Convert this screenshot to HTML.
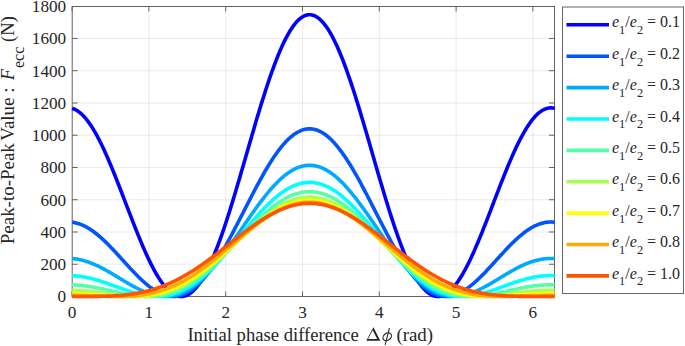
<!DOCTYPE html><html><head><meta charset="utf-8"><style>html,body{margin:0;padding:0;background:#fff;width:685px;height:346px;overflow:hidden}</style></head><body><svg width="685" height="346" viewBox="0 0 685 346" style="position:absolute;left:0;top:0">
<path d="M148.90 6.5V296.5 M225.70 6.5V296.5 M302.50 6.5V296.5 M379.30 6.5V296.5 M456.10 6.5V296.5 M532.90 6.5V296.5" stroke="#262626" stroke-opacity="0.095" stroke-width="1" fill="none"/>
<path d="M72.1 264.24H554.5 M72.1 231.99H554.5 M72.1 199.73H554.5 M72.1 167.48H554.5 M72.1 135.22H554.5 M72.1 102.97H554.5 M72.1 70.71H554.5 M72.1 38.46H554.5" stroke="#262626" stroke-opacity="0.095" stroke-width="1" fill="none"/>
<path d="M72.10 296.5v-5 M72.10 6.5v5 M148.90 296.5v-5 M148.90 6.5v5 M225.70 296.5v-5 M225.70 6.5v5 M302.50 296.5v-5 M302.50 6.5v5 M379.30 296.5v-5 M379.30 6.5v5 M456.10 296.5v-5 M456.10 6.5v5 M532.90 296.5v-5 M532.90 6.5v5 M72.1 264.24h5.5 M554.5 264.24h-5.5 M72.1 231.99h5.5 M554.5 231.99h-5.5 M72.1 199.73h5.5 M554.5 199.73h-5.5 M72.1 167.48h5.5 M554.5 167.48h-5.5 M72.1 135.22h5.5 M554.5 135.22h-5.5 M72.1 102.97h5.5 M554.5 102.97h-5.5 M72.1 70.71h5.5 M554.5 70.71h-5.5 M72.1 38.46h5.5 M554.5 38.46h-5.5" stroke="#636363" stroke-width="1" fill="none"/>
<rect x="72.2" y="6.5" width="482.30" height="290.0" stroke="#636363" stroke-width="1" fill="none"/>
<polyline points="72.10,108.39 73.07,108.68 74.03,109.05 75.00,109.47 75.97,109.97 76.94,110.53 77.90,111.15 78.87,111.84 79.84,112.59 80.80,113.40 81.77,114.28 82.74,115.22 83.70,116.22 84.67,117.28 85.64,118.40 86.61,119.58 87.57,120.82 88.54,122.11 89.51,123.47 90.47,124.87 91.44,126.34 92.41,127.85 93.37,129.42 94.34,131.05 95.31,132.72 96.28,134.44 97.24,136.21 98.21,138.02 99.18,139.89 100.14,141.79 101.11,143.74 102.08,145.73 103.05,147.76 104.01,149.83 104.98,151.94 105.95,154.08 106.91,156.26 107.88,158.47 108.85,160.72 109.81,162.99 110.78,165.29 111.75,167.62 112.72,169.97 113.68,172.35 114.65,174.75 115.62,177.16 116.58,179.60 117.55,182.05 118.52,184.52 119.48,187.00 120.45,189.50 121.42,192.00 122.39,194.51 123.35,197.03 124.32,199.55 125.29,202.07 126.25,204.60 127.22,207.12 128.19,209.65 129.15,212.16 130.12,214.67 131.09,217.18 132.06,219.67 133.02,222.15 133.99,224.62 134.96,227.07 135.92,229.51 136.89,231.92 137.86,234.32 138.83,236.69 139.79,239.04 140.76,241.37 141.73,243.67 142.69,245.93 143.66,248.17 144.63,250.38 145.59,252.55 146.56,254.68 147.53,256.78 148.50,258.84 149.46,260.86 150.43,262.84 151.40,264.77 152.36,266.66 153.33,268.50 154.30,270.30 155.26,272.04 156.23,273.74 157.20,275.38 158.17,276.97 159.13,278.51 160.10,279.99 161.07,281.42 162.03,282.78 163.00,284.09 163.97,285.34 164.94,286.52 165.90,287.65 166.87,288.71 167.84,289.71 168.80,290.64 169.77,291.50 170.74,292.30 171.70,293.03 172.67,293.70 173.64,294.29 174.61,294.82 175.57,295.27 176.54,295.66 177.51,295.97 178.47,296.21 179.44,296.38 180.41,296.48 181.37,296.50 182.34,296.45 183.31,296.33 184.28,296.13 185.24,295.86 186.21,295.52 187.18,295.10 188.14,294.61 189.11,294.04 190.08,293.40 191.04,292.69 192.01,291.90 192.98,291.04 193.95,290.11 194.91,289.10 195.88,288.02 196.85,286.87 197.81,285.65 198.78,284.36 199.75,282.99 200.72,281.56 201.68,280.06 202.65,278.49 203.62,276.85 204.58,275.14 205.55,273.37 206.52,271.53 207.48,269.63 208.45,267.67 209.42,265.64 210.39,263.55 211.35,261.40 212.32,259.19 213.29,256.92 214.25,254.59 215.22,252.21 216.19,249.78 217.15,247.29 218.12,244.75 219.09,242.15 220.06,239.51 221.02,236.82 221.99,234.09 222.96,231.31 223.92,228.48 224.89,225.62 225.86,222.71 226.83,219.76 227.79,216.78 228.76,213.76 229.73,210.71 230.69,207.63 231.66,204.51 232.63,201.37 233.59,198.20 234.56,195.00 235.53,191.79 236.50,188.55 237.46,185.29 238.43,182.01 239.40,178.71 240.36,175.41 241.33,172.09 242.30,168.76 243.26,165.42 244.23,162.07 245.20,158.72 246.17,155.37 247.13,152.01 248.10,148.66 249.07,145.31 250.03,141.96 251.00,138.63 251.97,135.30 252.93,131.98 253.90,128.67 254.87,125.38 255.84,122.10 256.80,118.85 257.77,115.61 258.74,112.40 259.70,109.21 260.67,106.04 261.64,102.90 262.61,99.80 263.57,96.72 264.54,93.68 265.51,90.67 266.47,87.70 267.44,84.76 268.41,81.87 269.37,79.02 270.34,76.21 271.31,73.45 272.28,70.73 273.24,68.06 274.21,65.44 275.18,62.87 276.14,60.36 277.11,57.90 278.08,55.50 279.04,53.15 280.01,50.86 280.98,48.63 281.95,46.46 282.91,44.36 283.88,42.32 284.85,40.34 285.81,38.43 286.78,36.59 287.75,34.81 288.72,33.11 289.68,31.47 290.65,29.91 291.62,28.42 292.58,27.00 293.55,25.66 294.52,24.39 295.48,23.19 296.45,22.08 297.42,21.04 298.39,20.07 299.35,19.19 300.32,18.38 301.29,17.65 302.25,17.00 303.22,16.44 304.19,15.95 305.15,15.54 306.12,15.21 307.09,14.97 308.06,14.80 309.02,14.72 309.99,14.72 310.96,14.80 311.92,14.96 312.89,15.20 313.86,15.52 314.82,15.92 315.79,16.41 316.76,16.97 317.73,17.61 318.69,18.34 319.66,19.14 320.63,20.02 321.59,20.98 322.56,22.01 323.53,23.13 324.50,24.32 325.46,25.58 326.43,26.92 327.40,28.33 328.36,29.82 329.33,31.38 330.30,33.01 331.26,34.71 332.23,36.48 333.20,38.32 334.17,40.23 335.13,42.20 336.10,44.24 337.07,46.34 338.03,48.50 339.00,50.73 339.97,53.01 340.93,55.36 341.90,57.76 342.87,60.21 343.84,62.73 344.80,65.29 345.77,67.91 346.74,70.57 347.70,73.29 348.67,76.05 349.64,78.85 350.61,81.70 351.57,84.59 352.54,87.52 353.51,90.49 354.47,93.50 355.44,96.54 356.41,99.62 357.37,102.72 358.34,105.86 359.31,109.02 360.28,112.21 361.24,115.42 362.21,118.66 363.18,121.91 364.14,125.19 365.11,128.48 366.08,131.79 367.04,135.10 368.01,138.43 368.98,141.77 369.95,145.11 370.91,148.46 371.88,151.82 372.85,155.17 373.81,158.52 374.78,161.88 375.75,165.22 376.71,168.56 377.68,171.89 378.65,175.21 379.62,178.52 380.58,181.82 381.55,185.10 382.52,188.36 383.48,191.60 384.45,194.82 385.42,198.01 386.39,201.19 387.35,204.33 388.32,207.45 389.29,210.53 390.25,213.59 391.22,216.61 392.19,219.59 393.15,222.54 394.12,225.45 395.09,228.32 396.06,231.14 397.02,233.93 397.99,236.67 398.96,239.36 399.92,242.00 400.89,244.60 401.86,247.14 402.82,249.63 403.79,252.07 404.76,254.46 405.73,256.79 406.69,259.06 407.66,261.27 408.63,263.42 409.59,265.52 410.56,267.55 411.53,269.52 412.50,271.42 413.46,273.27 414.43,275.04 415.40,276.75 416.36,278.39 417.33,279.97 418.30,281.48 419.26,282.91 420.23,284.28 421.20,285.58 422.17,286.80 423.13,287.96 424.10,289.04 425.07,290.05 426.03,290.99 427.00,291.85 427.97,292.64 428.93,293.36 429.90,294.00 430.87,294.57 431.84,295.07 432.80,295.49 433.77,295.84 434.74,296.12 435.70,296.32 436.67,296.44 437.64,296.50 438.60,296.48 439.57,296.39 440.54,296.22 441.51,295.98 442.47,295.68 443.44,295.30 444.41,294.85 445.37,294.32 446.34,293.73 447.31,293.07 448.28,292.35 449.24,291.55 450.21,290.69 451.18,289.76 452.14,288.77 453.11,287.71 454.08,286.59 455.04,285.41 456.01,284.16 456.98,282.86 457.95,281.50 458.91,280.08 459.88,278.60 460.85,277.07 461.81,275.48 462.78,273.84 463.75,272.14 464.71,270.40 465.68,268.61 466.65,266.77 467.62,264.88 468.58,262.95 469.55,260.98 470.52,258.96 471.48,256.90 472.45,254.81 473.42,252.67 474.39,250.50 475.35,248.30 476.32,246.06 477.29,243.80 478.25,241.50 479.22,239.18 480.19,236.83 481.15,234.46 482.12,232.06 483.09,229.65 484.06,227.21 485.02,224.76 485.99,222.29 486.96,219.81 487.92,217.32 488.89,214.82 489.86,212.31 490.82,209.79 491.79,207.27 492.76,204.75 493.73,202.22 494.69,199.70 495.66,197.18 496.63,194.66 497.59,192.15 498.56,189.64 499.53,187.15 500.49,184.67 501.46,182.20 502.43,179.74 503.40,177.31 504.36,174.89 505.33,172.49 506.30,170.11 507.26,167.75 508.23,165.43 509.20,163.12 510.17,160.85 511.13,158.60 512.10,156.39 513.07,154.21 514.03,152.06 515.00,149.95 515.97,147.88 516.93,145.85 517.90,143.86 518.87,141.90 519.84,139.99 520.80,138.13 521.77,136.31 522.74,134.54 523.70,132.82 524.67,131.14 525.64,129.52 526.60,127.94 527.57,126.42 528.54,124.96 529.51,123.55 530.47,122.19 531.44,120.89 532.41,119.65 533.37,118.47 534.34,117.34 535.31,116.28 536.28,115.27 537.24,114.33 538.21,113.45 539.18,112.63 540.14,111.88 541.11,111.19 542.08,110.56 543.04,110.00 544.01,109.50 544.98,109.07 545.95,108.70 546.91,108.40 547.88,108.17 548.85,108.00 549.81,107.90 550.78,107.86 551.75,107.89 552.71,107.99 553.68,108.16 554.65,108.39" stroke="#0000ff" stroke-width="3.6" fill="none" stroke-linejoin="round"/>
<polyline points="72.10,222.21 73.07,222.34 74.03,222.50 75.00,222.69 75.97,222.91 76.94,223.16 77.90,223.44 78.87,223.74 79.84,224.07 80.80,224.44 81.77,224.82 82.74,225.24 83.70,225.68 84.67,226.15 85.64,226.65 86.61,227.17 87.57,227.72 88.54,228.29 89.51,228.89 90.47,229.51 91.44,230.16 92.41,230.83 93.37,231.52 94.34,232.24 95.31,232.97 96.28,233.73 97.24,234.51 98.21,235.31 99.18,236.13 100.14,236.96 101.11,237.82 102.08,238.69 103.05,239.58 104.01,240.48 104.98,241.40 105.95,242.34 106.91,243.29 107.88,244.25 108.85,245.23 109.81,246.21 110.78,247.21 111.75,248.22 112.72,249.24 113.68,250.26 114.65,251.30 115.62,252.34 116.58,253.39 117.55,254.44 118.52,255.50 119.48,256.56 120.45,257.62 121.42,258.69 122.39,259.75 123.35,260.82 124.32,261.89 125.29,262.95 126.25,264.01 127.22,265.07 128.19,266.13 129.15,267.18 130.12,268.23 131.09,269.27 132.06,270.30 133.02,271.32 133.99,272.33 134.96,273.34 135.92,274.33 136.89,275.31 137.86,276.28 138.83,277.23 139.79,278.17 140.76,279.10 141.73,280.01 142.69,280.90 143.66,281.78 144.63,282.64 145.59,283.48 146.56,284.30 147.53,285.09 148.50,285.87 149.46,286.63 150.43,287.36 151.40,288.07 152.36,288.75 153.33,289.41 154.30,290.05 155.26,290.65 156.23,291.24 157.20,291.79 158.17,292.32 159.13,292.81 160.10,293.28 161.07,293.72 162.03,294.13 163.00,294.51 163.97,294.85 164.94,295.17 165.90,295.45 166.87,295.70 167.84,295.92 168.80,296.10 169.77,296.25 170.74,296.36 171.70,296.44 172.67,296.49 173.64,296.50 174.61,296.47 175.57,296.41 176.54,296.32 177.51,296.18 178.47,296.01 179.44,295.81 180.41,295.56 181.37,295.28 182.34,294.97 183.31,294.61 184.28,294.22 185.24,293.79 186.21,293.33 187.18,292.83 188.14,292.29 189.11,291.71 190.08,291.10 191.04,290.45 192.01,289.76 192.98,289.04 193.95,288.28 194.91,287.48 195.88,286.65 196.85,285.79 197.81,284.88 198.78,283.95 199.75,282.97 200.72,281.97 201.68,280.93 202.65,279.85 203.62,278.75 204.58,277.60 205.55,276.43 206.52,275.23 207.48,273.99 208.45,272.72 209.42,271.43 210.39,270.10 211.35,268.74 212.32,267.36 213.29,265.94 214.25,264.50 215.22,263.04 216.19,261.54 217.15,260.02 218.12,258.48 219.09,256.91 220.06,255.32 221.02,253.71 221.99,252.07 222.96,250.42 223.92,248.74 224.89,247.05 225.86,245.33 226.83,243.60 227.79,241.85 228.76,240.09 229.73,238.31 230.69,236.51 231.66,234.71 232.63,232.89 233.59,231.06 234.56,229.21 235.53,227.36 236.50,225.50 237.46,223.63 238.43,221.76 239.40,219.88 240.36,218.00 241.33,216.11 242.30,214.22 243.26,212.32 244.23,210.43 245.20,208.53 246.17,206.64 247.13,204.75 248.10,202.86 249.07,200.98 250.03,199.10 251.00,197.22 251.97,195.36 252.93,193.50 253.90,191.65 254.87,189.81 255.84,187.99 256.80,186.17 257.77,184.37 258.74,182.58 259.70,180.80 260.67,179.05 261.64,177.30 262.61,175.58 263.57,173.88 264.54,172.19 265.51,170.53 266.47,168.88 267.44,167.26 268.41,165.66 269.37,164.09 270.34,162.54 271.31,161.02 272.28,159.52 273.24,158.05 274.21,156.61 275.18,155.20 276.14,153.81 277.11,152.46 278.08,151.14 279.04,149.85 280.01,148.60 280.98,147.38 281.95,146.19 282.91,145.03 283.88,143.91 284.85,142.83 285.81,141.79 286.78,140.78 287.75,139.81 288.72,138.87 289.68,137.98 290.65,137.12 291.62,136.31 292.58,135.53 293.55,134.80 294.52,134.11 295.48,133.45 296.45,132.84 297.42,132.28 298.39,131.75 299.35,131.27 300.32,130.83 301.29,130.43 302.25,130.08 303.22,129.77 304.19,129.50 305.15,129.28 306.12,129.10 307.09,128.96 308.06,128.87 309.02,128.83 309.99,128.83 310.96,128.87 311.92,128.96 312.89,129.09 313.86,129.27 314.82,129.48 315.79,129.75 316.76,130.06 317.73,130.41 318.69,130.80 319.66,131.24 320.63,131.72 321.59,132.24 322.56,132.81 323.53,133.42 324.50,134.07 325.46,134.76 326.43,135.49 327.40,136.26 328.36,137.08 329.33,137.93 330.30,138.82 331.26,139.75 332.23,140.72 333.20,141.73 334.17,142.77 335.13,143.85 336.10,144.97 337.07,146.12 338.03,147.30 339.00,148.53 339.97,149.78 340.93,151.07 341.90,152.39 342.87,153.74 343.84,155.12 344.80,156.53 345.77,157.97 346.74,159.43 347.70,160.93 348.67,162.45 349.64,164.00 350.61,165.57 351.57,167.17 352.54,168.79 353.51,170.43 354.47,172.09 355.44,173.78 356.41,175.48 357.37,177.20 358.34,178.94 359.31,180.70 360.28,182.47 361.24,184.26 362.21,186.06 363.18,187.88 364.14,189.71 365.11,191.54 366.08,193.39 367.04,195.25 368.01,197.12 368.98,198.99 369.95,200.87 370.91,202.75 371.88,204.64 372.85,206.53 373.81,208.42 374.78,210.32 375.75,212.21 376.71,214.10 377.68,216.00 378.65,217.89 379.62,219.77 380.58,221.65 381.55,223.53 382.52,225.39 383.48,227.25 384.45,229.11 385.42,230.95 386.39,232.78 387.35,234.60 388.32,236.41 389.29,238.20 390.25,239.98 391.22,241.75 392.19,243.50 393.15,245.23 394.12,246.95 395.09,248.64 396.06,250.32 397.02,251.98 397.99,253.61 398.96,255.23 399.92,256.82 400.89,258.39 401.86,259.93 402.82,261.46 403.79,262.95 404.76,264.42 405.73,265.86 406.69,267.28 407.66,268.66 408.63,270.02 409.59,271.35 410.56,272.65 411.53,273.92 412.50,275.16 413.46,276.36 414.43,277.54 415.40,278.68 416.36,279.79 417.33,280.87 418.30,281.91 419.26,282.92 420.23,283.89 421.20,284.83 422.17,285.73 423.13,286.60 424.10,287.44 425.07,288.23 426.03,289.00 427.00,289.72 427.97,290.41 428.93,291.06 429.90,291.68 430.87,292.26 431.84,292.80 432.80,293.30 433.77,293.77 434.74,294.20 435.70,294.59 436.67,294.95 437.64,295.27 438.60,295.55 439.57,295.79 440.54,296.00 441.51,296.17 442.47,296.31 443.44,296.41 444.41,296.47 445.37,296.50 446.34,296.49 447.31,296.45 448.28,296.37 449.24,296.26 450.21,296.11 451.18,295.93 452.14,295.71 453.11,295.47 454.08,295.18 455.04,294.87 456.01,294.53 456.98,294.15 457.95,293.75 458.91,293.31 459.88,292.84 460.85,292.35 461.81,291.82 462.78,291.27 463.75,290.69 464.71,290.08 465.68,289.45 466.65,288.79 467.62,288.11 468.58,287.40 469.55,286.67 470.52,285.92 471.48,285.14 472.45,284.34 473.42,283.52 474.39,282.69 475.35,281.83 476.32,280.96 477.29,280.06 478.25,279.15 479.22,278.23 480.19,277.29 481.15,276.33 482.12,275.37 483.09,274.39 484.06,273.39 485.02,272.39 485.99,271.38 486.96,270.36 487.92,269.33 488.89,268.29 489.86,267.24 490.82,266.19 491.79,265.14 492.76,264.08 493.73,263.01 494.69,261.95 495.66,260.88 496.63,259.81 497.59,258.75 498.56,257.68 499.53,256.62 500.49,255.56 501.46,254.50 502.43,253.45 503.40,252.40 504.36,251.36 505.33,250.32 506.30,249.30 507.26,248.28 508.23,247.27 509.20,246.27 510.17,245.28 511.13,244.31 512.10,243.34 513.07,242.39 514.03,241.46 515.00,240.54 515.97,239.63 516.93,238.74 517.90,237.87 518.87,237.01 519.84,236.17 520.80,235.36 521.77,234.56 522.74,233.78 523.70,233.02 524.67,232.28 525.64,231.56 526.60,230.87 527.57,230.20 528.54,229.55 529.51,228.93 530.47,228.33 531.44,227.75 532.41,227.20 533.37,226.68 534.34,226.18 535.31,225.71 536.28,225.27 537.24,224.85 538.21,224.46 539.18,224.09 540.14,223.76 541.11,223.45 542.08,223.17 543.04,222.93 544.01,222.70 544.98,222.51 545.95,222.35 546.91,222.22 547.88,222.11 548.85,222.04 549.81,221.99 550.78,221.98 551.75,221.99 552.71,222.03 553.68,222.11 554.65,222.21" stroke="#0055ff" stroke-width="3.6" fill="none" stroke-linejoin="round"/>
<polyline points="72.10,258.60 73.07,258.67 74.03,258.77 75.00,258.88 75.97,259.01 76.94,259.15 77.90,259.31 78.87,259.49 79.84,259.68 80.80,259.89 81.77,260.12 82.74,260.36 83.70,260.62 84.67,260.89 85.64,261.18 86.61,261.49 87.57,261.80 88.54,262.14 89.51,262.48 90.47,262.84 91.44,263.22 92.41,263.60 93.37,264.00 94.34,264.42 95.31,264.84 96.28,265.28 97.24,265.73 98.21,266.18 99.18,266.65 100.14,267.13 101.11,267.62 102.08,268.12 103.05,268.63 104.01,269.15 104.98,269.67 105.95,270.21 106.91,270.74 107.88,271.29 108.85,271.84 109.81,272.40 110.78,272.97 111.75,273.53 112.72,274.11 113.68,274.68 114.65,275.26 115.62,275.84 116.58,276.43 117.55,277.01 118.52,277.60 119.48,278.19 120.45,278.78 121.42,279.36 122.39,279.95 123.35,280.53 124.32,281.11 125.29,281.69 126.25,282.27 127.22,282.84 128.19,283.41 129.15,283.97 130.12,284.53 131.09,285.08 132.06,285.62 133.02,286.16 133.99,286.69 134.96,287.21 135.92,287.72 136.89,288.22 137.86,288.71 138.83,289.20 139.79,289.67 140.76,290.13 141.73,290.57 142.69,291.01 143.66,291.43 144.63,291.84 145.59,292.23 146.56,292.61 147.53,292.98 148.50,293.33 149.46,293.66 150.43,293.98 151.40,294.28 152.36,294.56 153.33,294.83 154.30,295.08 155.26,295.31 156.23,295.52 157.20,295.71 158.17,295.88 159.13,296.03 160.10,296.16 161.07,296.27 162.03,296.36 163.00,296.43 163.97,296.47 164.94,296.50 165.90,296.50 166.87,296.48 167.84,296.43 168.80,296.37 169.77,296.28 170.74,296.16 171.70,296.03 172.67,295.87 173.64,295.68 174.61,295.47 175.57,295.24 176.54,294.98 177.51,294.70 178.47,294.39 179.44,294.06 180.41,293.71 181.37,293.33 182.34,292.92 183.31,292.49 184.28,292.03 185.24,291.55 186.21,291.05 187.18,290.52 188.14,289.96 189.11,289.38 190.08,288.78 191.04,288.15 192.01,287.50 192.98,286.82 193.95,286.12 194.91,285.39 195.88,284.64 196.85,283.87 197.81,283.08 198.78,282.26 199.75,281.42 200.72,280.55 201.68,279.66 202.65,278.76 203.62,277.82 204.58,276.87 205.55,275.90 206.52,274.91 207.48,273.89 208.45,272.86 209.42,271.80 210.39,270.73 211.35,269.64 212.32,268.53 213.29,267.40 214.25,266.25 215.22,265.09 216.19,263.91 217.15,262.72 218.12,261.51 219.09,260.28 220.06,259.04 221.02,257.78 221.99,256.52 222.96,255.23 223.92,253.94 224.89,252.64 225.86,251.32 226.83,249.99 227.79,248.65 228.76,247.31 229.73,245.95 230.69,244.59 231.66,243.22 232.63,241.84 233.59,240.45 234.56,239.06 235.53,237.67 236.50,236.27 237.46,234.87 238.43,233.46 239.40,232.05 240.36,230.64 241.33,229.23 242.30,227.82 243.26,226.40 244.23,224.99 245.20,223.58 246.17,222.18 247.13,220.77 248.10,219.37 249.07,217.98 250.03,216.59 251.00,215.20 251.97,213.83 252.93,212.46 253.90,211.09 254.87,209.74 255.84,208.39 256.80,207.06 257.77,205.73 258.74,204.42 259.70,203.12 260.67,201.83 261.64,200.55 262.61,199.29 263.57,198.04 264.54,196.81 265.51,195.59 266.47,194.39 267.44,193.21 268.41,192.04 269.37,190.89 270.34,189.76 271.31,188.65 272.28,187.56 273.24,186.49 274.21,185.45 275.18,184.42 276.14,183.41 277.11,182.43 278.08,181.47 279.04,180.54 280.01,179.62 280.98,178.74 281.95,177.87 282.91,177.04 283.88,176.23 284.85,175.44 285.81,174.68 286.78,173.95 287.75,173.25 288.72,172.58 289.68,171.93 290.65,171.31 291.62,170.72 292.58,170.16 293.55,169.63 294.52,169.13 295.48,168.65 296.45,168.21 297.42,167.80 298.39,167.42 299.35,167.07 300.32,166.76 301.29,166.47 302.25,166.21 303.22,165.99 304.19,165.80 305.15,165.64 306.12,165.51 307.09,165.41 308.06,165.35 309.02,165.31 309.99,165.31 310.96,165.34 311.92,165.41 312.89,165.50 313.86,165.63 314.82,165.79 315.79,165.98 316.76,166.20 317.73,166.45 318.69,166.74 319.66,167.05 320.63,167.40 321.59,167.78 322.56,168.19 323.53,168.63 324.50,169.10 325.46,169.60 326.43,170.13 327.40,170.69 328.36,171.27 329.33,171.89 330.30,172.54 331.26,173.21 332.23,173.91 333.20,174.64 334.17,175.40 335.13,176.18 336.10,176.99 337.07,177.83 338.03,178.69 339.00,179.57 339.97,180.48 340.93,181.42 341.90,182.37 342.87,183.36 343.84,184.36 344.80,185.39 345.77,186.43 346.74,187.50 347.70,188.59 348.67,189.70 349.64,190.83 350.61,191.97 351.57,193.14 352.54,194.32 353.51,195.52 354.47,196.74 355.44,197.97 356.41,199.22 357.37,200.48 358.34,201.75 359.31,203.04 360.28,204.34 361.24,205.66 362.21,206.98 363.18,208.31 364.14,209.66 365.11,211.01 366.08,212.38 367.04,213.75 368.01,215.12 368.98,216.51 369.95,217.90 370.91,219.29 371.88,220.69 372.85,222.10 373.81,223.50 374.78,224.91 375.75,226.32 376.71,227.73 377.68,229.15 378.65,230.56 379.62,231.97 380.58,233.38 381.55,234.78 382.52,236.19 383.48,237.59 384.45,238.98 385.42,240.37 386.39,241.76 387.35,243.14 388.32,244.51 389.29,245.87 390.25,247.23 391.22,248.58 392.19,249.91 393.15,251.24 394.12,252.56 395.09,253.87 396.06,255.16 397.02,256.44 397.99,257.71 398.96,258.97 399.92,260.21 400.89,261.43 401.86,262.65 402.82,263.84 403.79,265.02 404.76,266.19 405.73,267.33 406.69,268.46 407.66,269.57 408.63,270.67 409.59,271.74 410.56,272.80 411.53,273.83 412.50,274.85 413.46,275.84 414.43,276.82 415.40,277.77 416.36,278.70 417.33,279.61 418.30,280.50 419.26,281.37 420.23,282.21 421.20,283.03 422.17,283.83 423.13,284.60 424.10,285.35 425.07,286.08 426.03,286.78 427.00,287.46 427.97,288.11 428.93,288.74 429.90,289.35 430.87,289.93 431.84,290.49 432.80,291.02 433.77,291.52 434.74,292.01 435.70,292.46 436.67,292.90 437.64,293.30 438.60,293.69 439.57,294.04 440.54,294.38 441.51,294.68 442.47,294.97 443.44,295.23 444.41,295.46 445.37,295.67 446.34,295.86 447.31,296.02 448.28,296.16 449.24,296.27 450.21,296.36 451.18,296.43 452.14,296.48 453.11,296.50 454.08,296.50 455.04,296.47 456.01,296.43 456.98,296.36 457.95,296.28 458.91,296.17 459.88,296.04 460.85,295.89 461.81,295.72 462.78,295.53 463.75,295.32 464.71,295.09 465.68,294.84 466.65,294.58 467.62,294.30 468.58,294.00 469.55,293.68 470.52,293.35 471.48,293.00 472.45,292.64 473.42,292.26 474.39,291.86 475.35,291.45 476.32,291.03 477.29,290.60 478.25,290.15 479.22,289.69 480.19,289.22 481.15,288.74 482.12,288.25 483.09,287.75 484.06,287.24 485.02,286.72 485.99,286.19 486.96,285.65 487.92,285.11 488.89,284.56 489.86,284.00 490.82,283.44 491.79,282.87 492.76,282.30 493.73,281.73 494.69,281.15 495.66,280.57 496.63,279.98 497.59,279.40 498.56,278.81 499.53,278.22 500.49,277.63 501.46,277.05 502.43,276.46 503.40,275.88 504.36,275.30 505.33,274.72 506.30,274.14 507.26,273.57 508.23,273.00 509.20,272.43 510.17,271.88 511.13,271.32 512.10,270.78 513.07,270.24 514.03,269.70 515.00,269.18 515.97,268.66 516.93,268.15 517.90,267.65 518.87,267.16 519.84,266.68 520.80,266.21 521.77,265.75 522.74,265.30 523.70,264.87 524.67,264.44 525.64,264.03 526.60,263.63 527.57,263.24 528.54,262.86 529.51,262.50 530.47,262.16 531.44,261.82 532.41,261.50 533.37,261.20 534.34,260.91 535.31,260.64 536.28,260.38 537.24,260.13 538.21,259.91 539.18,259.70 540.14,259.50 541.11,259.32 542.08,259.16 543.04,259.02 544.01,258.89 544.98,258.77 545.95,258.68 546.91,258.60 547.88,258.54 548.85,258.50 549.81,258.47 550.78,258.46 551.75,258.47 552.71,258.50 553.68,258.54 554.65,258.60" stroke="#00aaff" stroke-width="3.6" fill="none" stroke-linejoin="round"/>
<polyline points="72.10,275.63 73.07,275.68 74.03,275.74 75.00,275.81 75.97,275.89 76.94,275.98 77.90,276.09 78.87,276.20 79.84,276.33 80.80,276.46 81.77,276.60 82.74,276.76 83.70,276.92 84.67,277.10 85.64,277.28 86.61,277.48 87.57,277.68 88.54,277.89 89.51,278.11 90.47,278.34 91.44,278.58 92.41,278.83 93.37,279.08 94.34,279.34 95.31,279.61 96.28,279.89 97.24,280.17 98.21,280.46 99.18,280.75 100.14,281.06 101.11,281.36 102.08,281.68 103.05,281.99 104.01,282.32 104.98,282.64 105.95,282.97 106.91,283.31 107.88,283.65 108.85,283.99 109.81,284.33 110.78,284.68 111.75,285.03 112.72,285.38 113.68,285.73 114.65,286.08 115.62,286.43 116.58,286.78 117.55,287.14 118.52,287.49 119.48,287.84 120.45,288.19 121.42,288.54 122.39,288.88 123.35,289.22 124.32,289.56 125.29,289.90 126.25,290.23 127.22,290.56 128.19,290.88 129.15,291.20 130.12,291.51 131.09,291.82 132.06,292.12 133.02,292.41 133.99,292.70 134.96,292.98 135.92,293.25 136.89,293.51 137.86,293.77 138.83,294.01 139.79,294.25 140.76,294.47 141.73,294.69 142.69,294.90 143.66,295.09 144.63,295.28 145.59,295.45 146.56,295.61 147.53,295.76 148.50,295.89 149.46,296.02 150.43,296.13 151.40,296.22 152.36,296.30 153.33,296.37 154.30,296.43 155.26,296.47 156.23,296.49 157.20,296.50 158.17,296.49 159.13,296.47 160.10,296.43 161.07,296.38 162.03,296.31 163.00,296.22 163.97,296.12 164.94,296.00 165.90,295.86 166.87,295.70 167.84,295.53 168.80,295.34 169.77,295.13 170.74,294.90 171.70,294.66 172.67,294.39 173.64,294.11 174.61,293.81 175.57,293.49 176.54,293.15 177.51,292.80 178.47,292.42 179.44,292.03 180.41,291.61 181.37,291.18 182.34,290.73 183.31,290.26 184.28,289.78 185.24,289.27 186.21,288.74 187.18,288.20 188.14,287.64 189.11,287.05 190.08,286.45 191.04,285.84 192.01,285.20 192.98,284.55 193.95,283.87 194.91,283.18 195.88,282.48 196.85,281.75 197.81,281.01 198.78,280.25 199.75,279.47 200.72,278.68 201.68,277.87 202.65,277.04 203.62,276.20 204.58,275.34 205.55,274.47 206.52,273.58 207.48,272.68 208.45,271.76 209.42,270.83 210.39,269.88 211.35,268.92 212.32,267.95 213.29,266.96 214.25,265.97 215.22,264.95 216.19,263.93 217.15,262.90 218.12,261.85 219.09,260.80 220.06,259.73 221.02,258.66 221.99,257.57 222.96,256.48 223.92,255.38 224.89,254.27 225.86,253.15 226.83,252.02 227.79,250.89 228.76,249.75 229.73,248.61 230.69,247.46 231.66,246.31 232.63,245.15 233.59,243.99 234.56,242.82 235.53,241.66 236.50,240.49 237.46,239.32 238.43,238.14 239.40,236.97 240.36,235.80 241.33,234.62 242.30,233.45 243.26,232.28 244.23,231.11 245.20,229.95 246.17,228.78 247.13,227.62 248.10,226.47 249.07,225.32 250.03,224.17 251.00,223.03 251.97,221.90 252.93,220.77 253.90,219.65 254.87,218.54 255.84,217.43 256.80,216.34 257.77,215.25 258.74,214.17 259.70,213.11 260.67,212.05 261.64,211.01 262.61,209.98 263.57,208.96 264.54,207.95 265.51,206.96 266.47,205.98 267.44,205.02 268.41,204.07 269.37,203.13 270.34,202.21 271.31,201.31 272.28,200.42 273.24,199.55 274.21,198.70 275.18,197.87 276.14,197.05 277.11,196.25 278.08,195.47 279.04,194.71 280.01,193.97 280.98,193.25 281.95,192.55 282.91,191.88 283.88,191.22 284.85,190.58 285.81,189.97 286.78,189.38 287.75,188.81 288.72,188.26 289.68,187.74 290.65,187.24 291.62,186.76 292.58,186.31 293.55,185.88 294.52,185.47 295.48,185.09 296.45,184.73 297.42,184.40 298.39,184.09 299.35,183.81 300.32,183.56 301.29,183.32 302.25,183.12 303.22,182.94 304.19,182.78 305.15,182.65 306.12,182.55 307.09,182.47 308.06,182.42 309.02,182.39 309.99,182.39 310.96,182.41 311.92,182.47 312.89,182.54 313.86,182.64 314.82,182.77 315.79,182.93 316.76,183.11 317.73,183.31 318.69,183.54 319.66,183.80 320.63,184.08 321.59,184.38 322.56,184.71 323.53,185.07 324.50,185.45 325.46,185.85 326.43,186.28 327.40,186.73 328.36,187.21 329.33,187.71 330.30,188.23 331.26,188.78 332.23,189.34 333.20,189.93 334.17,190.55 335.13,191.18 336.10,191.84 337.07,192.51 338.03,193.21 339.00,193.93 339.97,194.67 340.93,195.43 341.90,196.21 342.87,197.00 343.84,197.82 344.80,198.65 345.77,199.50 346.74,200.37 347.70,201.26 348.67,202.16 349.64,203.08 350.61,204.01 351.57,204.96 352.54,205.93 353.51,206.90 354.47,207.90 355.44,208.90 356.41,209.92 357.37,210.95 358.34,211.99 359.31,213.05 360.28,214.11 361.24,215.19 362.21,216.27 363.18,217.37 364.14,218.47 365.11,219.58 366.08,220.70 367.04,221.83 368.01,222.96 368.98,224.10 369.95,225.25 370.91,226.40 371.88,227.56 372.85,228.71 373.81,229.88 374.78,231.04 375.75,232.21 376.71,233.38 377.68,234.56 378.65,235.73 379.62,236.90 380.58,238.08 381.55,239.25 382.52,240.42 383.48,241.59 384.45,242.76 385.42,243.92 386.39,245.08 387.35,246.24 388.32,247.40 389.29,248.54 390.25,249.69 391.22,250.83 392.19,251.96 393.15,253.08 394.12,254.20 395.09,255.31 396.06,256.42 397.02,257.51 397.99,258.59 398.96,259.67 399.92,260.74 400.89,261.79 401.86,262.84 402.82,263.87 403.79,264.90 404.76,265.91 405.73,266.91 406.69,267.89 407.66,268.87 408.63,269.83 409.59,270.77 410.56,271.71 411.53,272.62 412.50,273.53 413.46,274.42 414.43,275.29 415.40,276.15 416.36,276.99 417.33,277.82 418.30,278.63 419.26,279.43 420.23,280.20 421.20,280.96 422.17,281.71 423.13,282.43 424.10,283.14 425.07,283.83 426.03,284.51 427.00,285.16 427.97,285.80 428.93,286.42 429.90,287.02 430.87,287.60 431.84,288.17 432.80,288.71 433.77,289.24 434.74,289.75 435.70,290.24 436.67,290.71 437.64,291.16 438.60,291.59 439.57,292.00 440.54,292.40 441.51,292.77 442.47,293.13 443.44,293.47 444.41,293.79 445.37,294.09 446.34,294.38 447.31,294.64 448.28,294.89 449.24,295.12 450.21,295.33 451.18,295.52 452.14,295.69 453.11,295.85 454.08,295.99 455.04,296.11 456.01,296.22 456.98,296.30 457.95,296.38 458.91,296.43 459.88,296.47 460.85,296.49 461.81,296.50 462.78,296.49 463.75,296.47 464.71,296.43 465.68,296.38 466.65,296.31 467.62,296.23 468.58,296.13 469.55,296.02 470.52,295.90 471.48,295.77 472.45,295.62 473.42,295.46 474.39,295.29 475.35,295.10 476.32,294.91 477.29,294.70 478.25,294.49 479.22,294.26 480.19,294.03 481.15,293.78 482.12,293.53 483.09,293.26 484.06,292.99 485.02,292.71 485.99,292.43 486.96,292.13 487.92,291.83 488.89,291.53 489.86,291.22 490.82,290.90 491.79,290.58 492.76,290.25 493.73,289.92 494.69,289.58 495.66,289.24 496.63,288.90 497.59,288.56 498.56,288.21 499.53,287.86 500.49,287.51 501.46,287.16 502.43,286.81 503.40,286.45 504.36,286.10 505.33,285.75 506.30,285.40 507.26,285.05 508.23,284.70 509.20,284.35 510.17,284.01 511.13,283.67 512.10,283.33 513.07,282.99 514.03,282.66 515.00,282.33 515.97,282.01 516.93,281.69 517.90,281.38 518.87,281.07 519.84,280.77 520.80,280.47 521.77,280.18 522.74,279.90 523.70,279.63 524.67,279.36 525.64,279.09 526.60,278.84 527.57,278.59 528.54,278.36 529.51,278.13 530.47,277.90 531.44,277.69 532.41,277.49 533.37,277.29 534.34,277.11 535.31,276.93 536.28,276.77 537.24,276.61 538.21,276.47 539.18,276.33 540.14,276.21 541.11,276.09 542.08,275.99 543.04,275.90 544.01,275.81 544.98,275.74 545.95,275.68 546.91,275.63 547.88,275.59 548.85,275.56 549.81,275.55 550.78,275.54 551.75,275.55 552.71,275.56 553.68,275.59 554.65,275.63" stroke="#00ffff" stroke-width="3.6" fill="none" stroke-linejoin="round"/>
<polyline points="72.10,284.91 73.07,284.95 74.03,284.99 75.00,285.03 75.97,285.09 76.94,285.15 77.90,285.22 78.87,285.30 79.84,285.38 80.80,285.47 81.77,285.56 82.74,285.67 83.70,285.78 84.67,285.89 85.64,286.01 86.61,286.14 87.57,286.27 88.54,286.41 89.51,286.56 90.47,286.71 91.44,286.87 92.41,287.03 93.37,287.19 94.34,287.36 95.31,287.54 96.28,287.72 97.24,287.90 98.21,288.09 99.18,288.28 100.14,288.48 101.11,288.67 102.08,288.88 103.05,289.08 104.01,289.28 104.98,289.49 105.95,289.70 106.91,289.92 107.88,290.13 108.85,290.34 109.81,290.56 110.78,290.77 111.75,290.99 112.72,291.21 113.68,291.42 114.65,291.64 115.62,291.85 116.58,292.07 117.55,292.28 118.52,292.49 119.48,292.70 120.45,292.90 121.42,293.11 122.39,293.31 123.35,293.51 124.32,293.70 125.29,293.89 126.25,294.07 127.22,294.26 128.19,294.43 129.15,294.60 130.12,294.77 131.09,294.93 132.06,295.08 133.02,295.23 133.99,295.37 134.96,295.51 135.92,295.63 136.89,295.75 137.86,295.87 138.83,295.97 139.79,296.06 140.76,296.15 141.73,296.23 142.69,296.30 143.66,296.36 144.63,296.41 145.59,296.44 146.56,296.47 147.53,296.49 148.50,296.50 149.46,296.50 150.43,296.48 151.40,296.46 152.36,296.42 153.33,296.37 154.30,296.31 155.26,296.23 156.23,296.14 157.20,296.04 158.17,295.93 159.13,295.81 160.10,295.67 161.07,295.51 162.03,295.35 163.00,295.17 163.97,294.97 164.94,294.76 165.90,294.54 166.87,294.30 167.84,294.05 168.80,293.79 169.77,293.51 170.74,293.21 171.70,292.90 172.67,292.57 173.64,292.23 174.61,291.88 175.57,291.51 176.54,291.12 177.51,290.72 178.47,290.31 179.44,289.87 180.41,289.43 181.37,288.97 182.34,288.49 183.31,288.00 184.28,287.49 185.24,286.97 186.21,286.43 187.18,285.88 188.14,285.31 189.11,284.73 190.08,284.13 191.04,283.52 192.01,282.89 192.98,282.25 193.95,281.60 194.91,280.93 195.88,280.24 196.85,279.55 197.81,278.83 198.78,278.11 199.75,277.37 200.72,276.62 201.68,275.86 202.65,275.08 203.62,274.29 204.58,273.49 205.55,272.68 206.52,271.85 207.48,271.02 208.45,270.17 209.42,269.31 210.39,268.44 211.35,267.56 212.32,266.67 213.29,265.77 214.25,264.86 215.22,263.94 216.19,263.01 217.15,262.08 218.12,261.13 219.09,260.18 220.06,259.22 221.02,258.25 221.99,257.28 222.96,256.29 223.92,255.31 224.89,254.31 225.86,253.32 226.83,252.31 227.79,251.30 228.76,250.29 229.73,249.27 230.69,248.25 231.66,247.23 232.63,246.21 233.59,245.18 234.56,244.15 235.53,243.12 236.50,242.09 237.46,241.06 238.43,240.02 239.40,238.99 240.36,237.96 241.33,236.93 242.30,235.90 243.26,234.88 244.23,233.85 245.20,232.83 246.17,231.81 247.13,230.80 248.10,229.79 249.07,228.79 250.03,227.79 251.00,226.79 251.97,225.81 252.93,224.82 253.90,223.85 254.87,222.88 255.84,221.92 256.80,220.97 257.77,220.03 258.74,219.10 259.70,218.17 260.67,217.26 261.64,216.36 262.61,215.46 263.57,214.58 264.54,213.71 265.51,212.85 266.47,212.00 267.44,211.17 268.41,210.35 269.37,209.54 270.34,208.75 271.31,207.97 272.28,207.21 273.24,206.46 274.21,205.72 275.18,205.00 276.14,204.30 277.11,203.61 278.08,202.94 279.04,202.29 280.01,201.65 280.98,201.03 281.95,200.43 282.91,199.85 283.88,199.28 284.85,198.74 285.81,198.21 286.78,197.70 287.75,197.21 288.72,196.74 289.68,196.29 290.65,195.86 291.62,195.45 292.58,195.06 293.55,194.70 294.52,194.35 295.48,194.02 296.45,193.71 297.42,193.43 298.39,193.17 299.35,192.92 300.32,192.70 301.29,192.51 302.25,192.33 303.22,192.17 304.19,192.04 305.15,191.93 306.12,191.84 307.09,191.77 308.06,191.73 309.02,191.70 309.99,191.70 310.96,191.73 311.92,191.77 312.89,191.84 313.86,191.92 314.82,192.03 315.79,192.16 316.76,192.32 317.73,192.49 318.69,192.69 319.66,192.91 320.63,193.15 321.59,193.41 322.56,193.70 323.53,194.00 324.50,194.33 325.46,194.67 326.43,195.04 327.40,195.43 328.36,195.84 329.33,196.27 330.30,196.72 331.26,197.18 332.23,197.67 333.20,198.18 334.17,198.71 335.13,199.25 336.10,199.81 337.07,200.40 338.03,201.00 339.00,201.61 339.97,202.25 340.93,202.90 341.90,203.57 342.87,204.26 343.84,204.96 344.80,205.68 345.77,206.41 346.74,207.16 347.70,207.93 348.67,208.70 349.64,209.50 350.61,210.30 351.57,211.12 352.54,211.96 353.51,212.80 354.47,213.66 355.44,214.53 356.41,215.41 357.37,216.30 358.34,217.21 359.31,218.12 360.28,219.04 361.24,219.98 362.21,220.92 363.18,221.87 364.14,222.83 365.11,223.79 366.08,224.77 367.04,225.75 368.01,226.74 368.98,227.73 369.95,228.73 370.91,229.73 371.88,230.74 372.85,231.75 373.81,232.77 374.78,233.79 375.75,234.82 376.71,235.84 377.68,236.87 378.65,237.90 379.62,238.93 380.58,239.96 381.55,241.00 382.52,242.03 383.48,243.06 384.45,244.09 385.42,245.12 386.39,246.15 387.35,247.17 388.32,248.20 389.29,249.22 390.25,250.23 391.22,251.24 392.19,252.25 393.15,253.26 394.12,254.26 395.09,255.25 396.06,256.24 397.02,257.22 397.99,258.19 398.96,259.16 399.92,260.12 400.89,261.08 401.86,262.02 402.82,262.96 403.79,263.89 404.76,264.81 405.73,265.72 406.69,266.62 407.66,267.51 408.63,268.39 409.59,269.26 410.56,270.12 411.53,270.97 412.50,271.81 413.46,272.63 414.43,273.45 415.40,274.25 416.36,275.04 417.33,275.81 418.30,276.58 419.26,277.33 420.23,278.07 421.20,278.79 422.17,279.50 423.13,280.20 424.10,280.89 425.07,281.56 426.03,282.21 427.00,282.85 427.97,283.48 428.93,284.09 429.90,284.69 430.87,285.27 431.84,285.84 432.80,286.40 433.77,286.94 434.74,287.46 435.70,287.97 436.67,288.46 437.64,288.94 438.60,289.40 439.57,289.85 440.54,290.28 441.51,290.70 442.47,291.10 443.44,291.49 444.41,291.86 445.37,292.21 446.34,292.56 447.31,292.88 448.28,293.19 449.24,293.49 450.21,293.77 451.18,294.04 452.14,294.29 453.11,294.53 454.08,294.75 455.04,294.96 456.01,295.16 456.98,295.34 457.95,295.50 458.91,295.66 459.88,295.80 460.85,295.92 461.81,296.04 462.78,296.14 463.75,296.23 464.71,296.30 465.68,296.36 466.65,296.42 467.62,296.45 468.58,296.48 469.55,296.50 470.52,296.50 471.48,296.49 472.45,296.48 473.42,296.45 474.39,296.41 475.35,296.36 476.32,296.30 477.29,296.23 478.25,296.16 479.22,296.07 480.19,295.97 481.15,295.87 482.12,295.76 483.09,295.64 484.06,295.51 485.02,295.38 485.99,295.24 486.96,295.09 487.92,294.94 488.89,294.78 489.86,294.61 490.82,294.44 491.79,294.27 492.76,294.09 493.73,293.90 494.69,293.71 495.66,293.52 496.63,293.32 497.59,293.12 498.56,292.92 499.53,292.71 500.49,292.50 501.46,292.29 502.43,292.08 503.40,291.87 504.36,291.65 505.33,291.44 506.30,291.22 507.26,291.00 508.23,290.79 509.20,290.57 510.17,290.36 511.13,290.14 512.10,289.93 513.07,289.72 514.03,289.51 515.00,289.30 515.97,289.09 516.93,288.89 517.90,288.69 518.87,288.49 519.84,288.29 520.80,288.10 521.77,287.91 522.74,287.73 523.70,287.55 524.67,287.37 525.64,287.20 526.60,287.04 527.57,286.88 528.54,286.72 529.51,286.57 530.47,286.42 531.44,286.28 532.41,286.15 533.37,286.02 534.34,285.90 535.31,285.78 536.28,285.67 537.24,285.57 538.21,285.47 539.18,285.38 540.14,285.30 541.11,285.22 542.08,285.15 543.04,285.09 544.01,285.04 544.98,284.99 545.95,284.95 546.91,284.92 547.88,284.89 548.85,284.87 549.81,284.86 550.78,284.86 551.75,284.86 552.71,284.87 553.68,284.89 554.65,284.91" stroke="#55ffaa" stroke-width="3.6" fill="none" stroke-linejoin="round"/>
<polyline points="72.10,290.33 73.07,290.35 74.03,290.38 75.00,290.41 75.97,290.45 76.94,290.49 77.90,290.53 78.87,290.58 79.84,290.64 80.80,290.70 81.77,290.76 82.74,290.83 83.70,290.90 84.67,290.98 85.64,291.06 86.61,291.14 87.57,291.23 88.54,291.32 89.51,291.41 90.47,291.51 91.44,291.61 92.41,291.72 93.37,291.83 94.34,291.94 95.31,292.05 96.28,292.16 97.24,292.28 98.21,292.40 99.18,292.52 100.14,292.65 101.11,292.77 102.08,292.90 103.05,293.03 104.01,293.15 104.98,293.28 105.95,293.41 106.91,293.54 107.88,293.67 108.85,293.80 109.81,293.93 110.78,294.06 111.75,294.19 112.72,294.32 113.68,294.44 114.65,294.57 115.62,294.69 116.58,294.81 117.55,294.93 118.52,295.05 119.48,295.16 120.45,295.27 121.42,295.38 122.39,295.48 123.35,295.58 124.32,295.68 125.29,295.77 126.25,295.86 127.22,295.95 128.19,296.02 129.15,296.10 130.12,296.17 131.09,296.23 132.06,296.29 133.02,296.34 133.99,296.38 134.96,296.42 135.92,296.45 136.89,296.47 137.86,296.49 138.83,296.50 139.79,296.50 140.76,296.49 141.73,296.48 142.69,296.46 143.66,296.42 144.63,296.38 145.59,296.33 146.56,296.27 147.53,296.21 148.50,296.13 149.46,296.04 150.43,295.94 151.40,295.84 152.36,295.72 153.33,295.59 154.30,295.45 155.26,295.30 156.23,295.14 157.20,294.96 158.17,294.78 159.13,294.59 160.10,294.38 161.07,294.16 162.03,293.93 163.00,293.69 163.97,293.43 164.94,293.17 165.90,292.89 166.87,292.60 167.84,292.29 168.80,291.98 169.77,291.65 170.74,291.31 171.70,290.95 172.67,290.59 173.64,290.21 174.61,289.82 175.57,289.41 176.54,288.99 177.51,288.56 178.47,288.12 179.44,287.66 180.41,287.19 181.37,286.71 182.34,286.22 183.31,285.71 184.28,285.19 185.24,284.65 186.21,284.11 187.18,283.55 188.14,282.98 189.11,282.40 190.08,281.80 191.04,281.19 192.01,280.57 192.98,279.94 193.95,279.30 194.91,278.64 195.88,277.98 196.85,277.30 197.81,276.61 198.78,275.91 199.75,275.20 200.72,274.48 201.68,273.74 202.65,273.00 203.62,272.25 204.58,271.48 205.55,270.71 206.52,269.93 207.48,269.13 208.45,268.33 209.42,267.52 210.39,266.70 211.35,265.88 212.32,265.04 213.29,264.20 214.25,263.35 215.22,262.49 216.19,261.62 217.15,260.75 218.12,259.87 219.09,258.99 220.06,258.10 221.02,257.20 221.99,256.30 222.96,255.39 223.92,254.48 224.89,253.57 225.86,252.65 226.83,251.73 227.79,250.80 228.76,249.87 229.73,248.94 230.69,248.01 231.66,247.07 232.63,246.13 233.59,245.20 234.56,244.26 235.53,243.32 236.50,242.38 237.46,241.44 238.43,240.50 239.40,239.56 240.36,238.63 241.33,237.69 242.30,236.76 243.26,235.83 244.23,234.90 245.20,233.98 246.17,233.06 247.13,232.14 248.10,231.23 249.07,230.32 250.03,229.42 251.00,228.53 251.97,227.64 252.93,226.75 253.90,225.88 254.87,225.01 255.84,224.14 256.80,223.29 257.77,222.44 258.74,221.60 259.70,220.77 260.67,219.95 261.64,219.14 262.61,218.34 263.57,217.55 264.54,216.77 265.51,216.00 266.47,215.24 267.44,214.50 268.41,213.76 269.37,213.04 270.34,212.33 271.31,211.63 272.28,210.95 273.24,210.28 274.21,209.62 275.18,208.98 276.14,208.36 277.11,207.74 278.08,207.14 279.04,206.56 280.01,205.99 280.98,205.44 281.95,204.91 282.91,204.39 283.88,203.88 284.85,203.40 285.81,202.93 286.78,202.47 287.75,202.04 288.72,201.62 289.68,201.22 290.65,200.84 291.62,200.47 292.58,200.13 293.55,199.80 294.52,199.49 295.48,199.20 296.45,198.93 297.42,198.67 298.39,198.44 299.35,198.22 300.32,198.03 301.29,197.85 302.25,197.69 303.22,197.55 304.19,197.44 305.15,197.34 306.12,197.26 307.09,197.20 308.06,197.16 309.02,197.14 309.99,197.14 310.96,197.16 311.92,197.20 312.89,197.25 313.86,197.33 314.82,197.43 315.79,197.55 316.76,197.68 317.73,197.84 318.69,198.02 319.66,198.21 320.63,198.42 321.59,198.66 322.56,198.91 323.53,199.18 324.50,199.47 325.46,199.78 326.43,200.11 327.40,200.45 328.36,200.82 329.33,201.20 330.30,201.60 331.26,202.01 332.23,202.45 333.20,202.90 334.17,203.37 335.13,203.85 336.10,204.36 337.07,204.87 338.03,205.41 339.00,205.96 339.97,206.53 340.93,207.11 341.90,207.71 342.87,208.32 343.84,208.95 344.80,209.59 345.77,210.24 346.74,210.91 347.70,211.59 348.67,212.29 349.64,213.00 350.61,213.72 351.57,214.45 352.54,215.20 353.51,215.96 354.47,216.72 355.44,217.50 356.41,218.29 357.37,219.09 358.34,219.90 359.31,220.72 360.28,221.55 361.24,222.39 362.21,223.24 363.18,224.09 364.14,224.95 365.11,225.82 366.08,226.70 367.04,227.58 368.01,228.47 368.98,229.37 369.95,230.27 370.91,231.18 371.88,232.09 372.85,233.00 373.81,233.92 374.78,234.85 375.75,235.77 376.71,236.70 377.68,237.64 378.65,238.57 379.62,239.51 380.58,240.44 381.55,241.38 382.52,242.32 383.48,243.26 384.45,244.20 385.42,245.14 386.39,246.08 387.35,247.02 388.32,247.95 389.29,248.89 390.25,249.82 391.22,250.75 392.19,251.67 393.15,252.60 394.12,253.52 395.09,254.43 396.06,255.34 397.02,256.25 397.99,257.15 398.96,258.05 399.92,258.94 400.89,259.82 401.86,260.70 402.82,261.57 403.79,262.44 404.76,263.30 405.73,264.15 406.69,264.99 407.66,265.83 408.63,266.66 409.59,267.48 410.56,268.29 411.53,269.09 412.50,269.88 413.46,270.66 414.43,271.44 415.40,272.20 416.36,272.96 417.33,273.70 418.30,274.43 419.26,275.16 420.23,275.87 421.20,276.57 422.17,277.26 423.13,277.94 424.10,278.61 425.07,279.26 426.03,279.91 427.00,280.54 427.97,281.16 428.93,281.77 429.90,282.36 430.87,282.95 431.84,283.52 432.80,284.08 433.77,284.62 434.74,285.16 435.70,285.68 436.67,286.19 437.64,286.68 438.60,287.17 439.57,287.64 440.54,288.09 441.51,288.54 442.47,288.97 443.44,289.39 444.41,289.79 445.37,290.19 446.34,290.57 447.31,290.93 448.28,291.29 449.24,291.63 450.21,291.96 451.18,292.28 452.14,292.58 453.11,292.87 454.08,293.15 455.04,293.42 456.01,293.67 456.98,293.92 457.95,294.15 458.91,294.37 459.88,294.57 460.85,294.77 461.81,294.95 462.78,295.13 463.75,295.29 464.71,295.44 465.68,295.58 466.65,295.71 467.62,295.83 468.58,295.94 469.55,296.04 470.52,296.12 471.48,296.20 472.45,296.27 473.42,296.33 474.39,296.38 475.35,296.42 476.32,296.45 477.29,296.48 478.25,296.49 479.22,296.50 480.19,296.50 481.15,296.49 482.12,296.47 483.09,296.45 484.06,296.42 485.02,296.38 485.99,296.34 486.96,296.29 487.92,296.23 488.89,296.17 489.86,296.10 490.82,296.03 491.79,295.95 492.76,295.87 493.73,295.78 494.69,295.69 495.66,295.59 496.63,295.49 497.59,295.39 498.56,295.28 499.53,295.17 500.49,295.05 501.46,294.94 502.43,294.82 503.40,294.70 504.36,294.58 505.33,294.45 506.30,294.33 507.26,294.20 508.23,294.07 509.20,293.94 510.17,293.81 511.13,293.68 512.10,293.55 513.07,293.42 514.03,293.29 515.00,293.16 515.97,293.03 516.93,292.91 517.90,292.78 518.87,292.65 519.84,292.53 520.80,292.41 521.77,292.29 522.74,292.17 523.70,292.06 524.67,291.94 525.64,291.83 526.60,291.72 527.57,291.62 528.54,291.52 529.51,291.42 530.47,291.32 531.44,291.23 532.41,291.15 533.37,291.06 534.34,290.98 535.31,290.90 536.28,290.83 537.24,290.76 538.21,290.70 539.18,290.64 540.14,290.59 541.11,290.53 542.08,290.49 543.04,290.45 544.01,290.41 544.98,290.38 545.95,290.35 546.91,290.33 547.88,290.31 548.85,290.30 549.81,290.29 550.78,290.29 551.75,290.29 552.71,290.30 553.68,290.31 554.65,290.33" stroke="#aaff55" stroke-width="3.6" fill="none" stroke-linejoin="round"/>
<polyline points="72.10,293.53 73.07,293.54 74.03,293.56 75.00,293.58 75.97,293.61 76.94,293.63 77.90,293.66 78.87,293.69 79.84,293.73 80.80,293.77 81.77,293.81 82.74,293.85 83.70,293.89 84.67,293.94 85.64,293.99 86.61,294.05 87.57,294.10 88.54,294.16 89.51,294.22 90.47,294.28 91.44,294.34 92.41,294.40 93.37,294.47 94.34,294.54 95.31,294.61 96.28,294.68 97.24,294.75 98.21,294.82 99.18,294.89 100.14,294.96 101.11,295.03 102.08,295.11 103.05,295.18 104.01,295.25 104.98,295.33 105.95,295.40 106.91,295.47 107.88,295.54 108.85,295.61 109.81,295.68 110.78,295.75 111.75,295.81 112.72,295.87 113.68,295.94 114.65,296.00 115.62,296.05 116.58,296.11 117.55,296.16 118.52,296.21 119.48,296.26 120.45,296.30 121.42,296.34 122.39,296.37 123.35,296.40 124.32,296.43 125.29,296.46 126.25,296.47 127.22,296.49 128.19,296.50 129.15,296.50 130.12,296.50 131.09,296.49 132.06,296.48 133.02,296.46 133.99,296.43 134.96,296.40 135.92,296.37 136.89,296.32 137.86,296.27 138.83,296.21 139.79,296.15 140.76,296.07 141.73,295.99 142.69,295.90 143.66,295.81 144.63,295.70 145.59,295.59 146.56,295.47 147.53,295.34 148.50,295.20 149.46,295.05 150.43,294.89 151.40,294.73 152.36,294.55 153.33,294.37 154.30,294.17 155.26,293.97 156.23,293.75 157.20,293.53 158.17,293.29 159.13,293.05 160.10,292.79 161.07,292.53 162.03,292.25 163.00,291.97 163.97,291.67 164.94,291.36 165.90,291.04 166.87,290.71 167.84,290.37 168.80,290.02 169.77,289.66 170.74,289.28 171.70,288.90 172.67,288.50 173.64,288.10 174.61,287.68 175.57,287.25 176.54,286.81 177.51,286.35 178.47,285.89 179.44,285.42 180.41,284.93 181.37,284.43 182.34,283.93 183.31,283.41 184.28,282.88 185.24,282.34 186.21,281.79 187.18,281.22 188.14,280.65 189.11,280.07 190.08,279.47 191.04,278.87 192.01,278.25 192.98,277.63 193.95,276.99 194.91,276.35 195.88,275.69 196.85,275.03 197.81,274.36 198.78,273.67 199.75,272.98 200.72,272.28 201.68,271.57 202.65,270.85 203.62,270.12 204.58,269.38 205.55,268.64 206.52,267.88 207.48,267.12 208.45,266.36 209.42,265.58 210.39,264.80 211.35,264.01 212.32,263.21 213.29,262.41 214.25,261.60 215.22,260.79 216.19,259.97 217.15,259.14 218.12,258.31 219.09,257.47 220.06,256.63 221.02,255.79 221.99,254.94 222.96,254.09 223.92,253.23 224.89,252.37 225.86,251.51 226.83,250.64 227.79,249.78 228.76,248.91 229.73,248.04 230.69,247.16 231.66,246.29 232.63,245.42 233.59,244.54 234.56,243.67 235.53,242.79 236.50,241.92 237.46,241.05 238.43,240.17 239.40,239.30 240.36,238.44 241.33,237.57 242.30,236.71 243.26,235.84 244.23,234.99 245.20,234.13 246.17,233.28 247.13,232.44 248.10,231.59 249.07,230.76 250.03,229.93 251.00,229.10 251.97,228.28 252.93,227.46 253.90,226.66 254.87,225.86 255.84,225.06 256.80,224.28 257.77,223.50 258.74,222.73 259.70,221.96 260.67,221.21 261.64,220.47 262.61,219.73 263.57,219.01 264.54,218.29 265.51,217.59 266.47,216.89 267.44,216.21 268.41,215.53 269.37,214.87 270.34,214.22 271.31,213.59 272.28,212.96 273.24,212.35 274.21,211.75 275.18,211.16 276.14,210.59 277.11,210.03 278.08,209.48 279.04,208.95 280.01,208.43 280.98,207.93 281.95,207.44 282.91,206.96 283.88,206.50 284.85,206.06 285.81,205.63 286.78,205.22 287.75,204.82 288.72,204.44 289.68,204.07 290.65,203.72 291.62,203.39 292.58,203.08 293.55,202.78 294.52,202.50 295.48,202.23 296.45,201.98 297.42,201.75 298.39,201.54 299.35,201.34 300.32,201.16 301.29,201.00 302.25,200.86 303.22,200.73 304.19,200.63 305.15,200.54 306.12,200.46 307.09,200.41 308.06,200.37 309.02,200.35 309.99,200.35 310.96,200.37 311.92,200.41 312.89,200.46 313.86,200.53 314.82,200.62 315.79,200.73 316.76,200.85 317.73,200.99 318.69,201.15 319.66,201.33 320.63,201.53 321.59,201.74 322.56,201.97 323.53,202.22 324.50,202.48 325.46,202.76 326.43,203.06 327.40,203.37 328.36,203.70 329.33,204.05 330.30,204.42 331.26,204.80 332.23,205.19 333.20,205.61 334.17,206.03 335.13,206.48 336.10,206.93 337.07,207.41 338.03,207.90 339.00,208.40 339.97,208.92 340.93,209.45 341.90,210.00 342.87,210.55 343.84,211.13 344.80,211.71 345.77,212.31 346.74,212.93 347.70,213.55 348.67,214.19 349.64,214.84 350.61,215.50 351.57,216.17 352.54,216.85 353.51,217.54 354.47,218.25 355.44,218.96 356.41,219.69 357.37,220.42 358.34,221.17 359.31,221.92 360.28,222.68 361.24,223.45 362.21,224.23 363.18,225.02 364.14,225.81 365.11,226.61 366.08,227.42 367.04,228.23 368.01,229.05 368.98,229.88 369.95,230.71 370.91,231.55 371.88,232.39 372.85,233.23 373.81,234.08 374.78,234.94 375.75,235.79 376.71,236.66 377.68,237.52 378.65,238.39 379.62,239.25 380.58,240.12 381.55,241.00 382.52,241.87 383.48,242.74 384.45,243.62 385.42,244.49 386.39,245.37 387.35,246.24 388.32,247.11 389.29,247.99 390.25,248.86 391.22,249.73 392.19,250.59 393.15,251.46 394.12,252.32 395.09,253.18 396.06,254.04 397.02,254.89 397.99,255.74 398.96,256.58 399.92,257.42 400.89,258.26 401.86,259.09 402.82,259.92 403.79,260.74 404.76,261.55 405.73,262.36 406.69,263.17 407.66,263.96 408.63,264.75 409.59,265.54 410.56,266.31 411.53,267.08 412.50,267.84 413.46,268.59 414.43,269.34 415.40,270.08 416.36,270.80 417.33,271.52 418.30,272.24 419.26,272.94 420.23,273.63 421.20,274.32 422.17,274.99 423.13,275.66 424.10,276.31 425.07,276.96 426.03,277.59 427.00,278.22 427.97,278.83 428.93,279.44 429.90,280.03 430.87,280.62 431.84,281.19 432.80,281.75 433.77,282.31 434.74,282.85 435.70,283.38 436.67,283.90 437.64,284.41 438.60,284.90 439.57,285.39 440.54,285.86 441.51,286.33 442.47,286.78 443.44,287.22 444.41,287.65 445.37,288.07 446.34,288.48 447.31,288.88 448.28,289.26 449.24,289.64 450.21,290.00 451.18,290.35 452.14,290.69 453.11,291.02 454.08,291.34 455.04,291.65 456.01,291.95 456.98,292.24 457.95,292.51 458.91,292.78 459.88,293.03 460.85,293.28 461.81,293.51 462.78,293.74 463.75,293.95 464.71,294.16 465.68,294.35 466.65,294.54 467.62,294.72 468.58,294.88 469.55,295.04 470.52,295.19 471.48,295.33 472.45,295.46 473.42,295.58 474.39,295.69 475.35,295.80 476.32,295.90 477.29,295.99 478.25,296.07 479.22,296.14 480.19,296.21 481.15,296.27 482.12,296.32 483.09,296.36 484.06,296.40 485.02,296.43 485.99,296.46 486.96,296.48 487.92,296.49 488.89,296.50 489.86,296.50 490.82,296.50 491.79,296.49 492.76,296.47 493.73,296.46 494.69,296.43 495.66,296.41 496.63,296.38 497.59,296.34 498.56,296.30 499.53,296.26 500.49,296.21 501.46,296.16 502.43,296.11 503.40,296.06 504.36,296.00 505.33,295.94 506.30,295.88 507.26,295.81 508.23,295.75 509.20,295.68 510.17,295.61 511.13,295.54 512.10,295.47 513.07,295.40 514.03,295.33 515.00,295.26 515.97,295.18 516.93,295.11 517.90,295.04 518.87,294.97 519.84,294.89 520.80,294.82 521.77,294.75 522.74,294.68 523.70,294.61 524.67,294.54 525.64,294.47 526.60,294.41 527.57,294.34 528.54,294.28 529.51,294.22 530.47,294.16 531.44,294.10 532.41,294.05 533.37,294.00 534.34,293.95 535.31,293.90 536.28,293.85 537.24,293.81 538.21,293.77 539.18,293.73 540.14,293.69 541.11,293.66 542.08,293.63 543.04,293.61 544.01,293.58 544.98,293.56 545.95,293.55 546.91,293.53 547.88,293.52 548.85,293.51 549.81,293.51 550.78,293.51 551.75,293.51 552.71,293.51 553.68,293.52 554.65,293.53" stroke="#ffff00" stroke-width="3.6" fill="none" stroke-linejoin="round"/>
<polyline points="72.10,295.35 73.07,295.36 74.03,295.37 75.00,295.38 75.97,295.39 76.94,295.41 77.90,295.43 78.87,295.44 79.84,295.46 80.80,295.49 81.77,295.51 82.74,295.53 83.70,295.56 84.67,295.59 85.64,295.61 86.61,295.64 87.57,295.67 88.54,295.70 89.51,295.74 90.47,295.77 91.44,295.80 92.41,295.84 93.37,295.87 94.34,295.91 95.31,295.94 96.28,295.98 97.24,296.01 98.21,296.05 99.18,296.08 100.14,296.11 101.11,296.15 102.08,296.18 103.05,296.21 104.01,296.25 104.98,296.28 105.95,296.30 106.91,296.33 107.88,296.36 108.85,296.38 109.81,296.40 110.78,296.43 111.75,296.44 112.72,296.46 113.68,296.47 114.65,296.48 115.62,296.49 116.58,296.50 117.55,296.50 118.52,296.50 119.48,296.49 120.45,296.49 121.42,296.47 122.39,296.46 123.35,296.44 124.32,296.41 125.29,296.38 126.25,296.35 127.22,296.31 128.19,296.27 129.15,296.22 130.12,296.17 131.09,296.11 132.06,296.04 133.02,295.97 133.99,295.89 134.96,295.81 135.92,295.72 136.89,295.62 137.86,295.52 138.83,295.41 139.79,295.30 140.76,295.17 141.73,295.04 142.69,294.91 143.66,294.76 144.63,294.61 145.59,294.45 146.56,294.28 147.53,294.10 148.50,293.92 149.46,293.72 150.43,293.52 151.40,293.31 152.36,293.09 153.33,292.87 154.30,292.63 155.26,292.39 156.23,292.13 157.20,291.87 158.17,291.60 159.13,291.31 160.10,291.02 161.07,290.72 162.03,290.41 163.00,290.09 163.97,289.76 164.94,289.42 165.90,289.07 166.87,288.72 167.84,288.35 168.80,287.97 169.77,287.58 170.74,287.18 171.70,286.77 172.67,286.36 173.64,285.93 174.61,285.49 175.57,285.04 176.54,284.58 177.51,284.12 178.47,283.64 179.44,283.15 180.41,282.65 181.37,282.15 182.34,281.63 183.31,281.10 184.28,280.57 185.24,280.02 186.21,279.46 187.18,278.90 188.14,278.32 189.11,277.74 190.08,277.15 191.04,276.54 192.01,275.93 192.98,275.31 193.95,274.68 194.91,274.05 195.88,273.40 196.85,272.75 197.81,272.08 198.78,271.41 199.75,270.73 200.72,270.05 201.68,269.35 202.65,268.65 203.62,267.94 204.58,267.22 205.55,266.50 206.52,265.77 207.48,265.03 208.45,264.29 209.42,263.54 210.39,262.79 211.35,262.03 212.32,261.26 213.29,260.49 214.25,259.71 215.22,258.93 216.19,258.14 217.15,257.35 218.12,256.55 219.09,255.76 220.06,254.95 221.02,254.15 221.99,253.34 222.96,252.52 223.92,251.71 224.89,250.89 225.86,250.07 226.83,249.25 227.79,248.43 228.76,247.60 229.73,246.78 230.69,245.95 231.66,245.12 232.63,244.30 233.59,243.47 234.56,242.64 235.53,241.82 236.50,240.99 237.46,240.17 238.43,239.35 239.40,238.53 240.36,237.71 241.33,236.90 242.30,236.08 243.26,235.27 244.23,234.47 245.20,233.67 246.17,232.87 247.13,232.07 248.10,231.28 249.07,230.50 250.03,229.72 251.00,228.95 251.97,228.18 252.93,227.42 253.90,226.66 254.87,225.91 255.84,225.17 256.80,224.43 257.77,223.71 258.74,222.99 259.70,222.28 260.67,221.57 261.64,220.88 262.61,220.19 263.57,219.52 264.54,218.85 265.51,218.19 266.47,217.54 267.44,216.91 268.41,216.28 269.37,215.67 270.34,215.06 271.31,214.47 272.28,213.89 273.24,213.32 274.21,212.76 275.18,212.21 276.14,211.68 277.11,211.16 278.08,210.65 279.04,210.16 280.01,209.67 280.98,209.21 281.95,208.75 282.91,208.31 283.88,207.89 284.85,207.47 285.81,207.08 286.78,206.69 287.75,206.32 288.72,205.97 289.68,205.63 290.65,205.31 291.62,205.00 292.58,204.71 293.55,204.43 294.52,204.17 295.48,203.92 296.45,203.69 297.42,203.48 298.39,203.28 299.35,203.10 300.32,202.93 301.29,202.78 302.25,202.65 303.22,202.54 304.19,202.44 305.15,202.35 306.12,202.28 307.09,202.23 308.06,202.20 309.02,202.18 309.99,202.18 310.96,202.20 311.92,202.23 312.89,202.28 313.86,202.35 314.82,202.43 315.79,202.53 316.76,202.64 317.73,202.78 318.69,202.92 319.66,203.09 320.63,203.27 321.59,203.47 322.56,203.68 323.53,203.91 324.50,204.15 325.46,204.41 326.43,204.69 327.40,204.98 328.36,205.29 329.33,205.61 330.30,205.95 331.26,206.30 332.23,206.67 333.20,207.05 334.17,207.45 335.13,207.86 336.10,208.29 337.07,208.73 338.03,209.18 339.00,209.65 339.97,210.13 340.93,210.62 341.90,211.13 342.87,211.65 343.84,212.18 344.80,212.73 345.77,213.28 346.74,213.85 347.70,214.43 348.67,215.03 349.64,215.63 350.61,216.25 351.57,216.87 352.54,217.51 353.51,218.15 354.47,218.81 355.44,219.48 356.41,220.15 357.37,220.84 358.34,221.53 359.31,222.23 360.28,222.95 361.24,223.66 362.21,224.39 363.18,225.13 364.14,225.87 365.11,226.62 366.08,227.37 367.04,228.13 368.01,228.90 368.98,229.67 369.95,230.45 370.91,231.24 371.88,232.03 372.85,232.82 373.81,233.62 374.78,234.42 375.75,235.23 376.71,236.04 377.68,236.85 378.65,237.66 379.62,238.48 380.58,239.30 381.55,240.12 382.52,240.95 383.48,241.77 384.45,242.60 385.42,243.42 386.39,244.25 387.35,245.08 388.32,245.90 389.29,246.73 390.25,247.55 391.22,248.38 392.19,249.20 393.15,250.02 394.12,250.84 395.09,251.66 396.06,252.48 397.02,253.29 397.99,254.10 398.96,254.91 399.92,255.71 400.89,256.51 401.86,257.30 402.82,258.09 403.79,258.88 404.76,259.66 405.73,260.44 406.69,261.21 407.66,261.98 408.63,262.74 409.59,263.50 410.56,264.25 411.53,264.99 412.50,265.73 413.46,266.46 414.43,267.18 415.40,267.90 416.36,268.61 417.33,269.31 418.30,270.01 419.26,270.69 420.23,271.37 421.20,272.04 422.17,272.71 423.13,273.36 424.10,274.01 425.07,274.65 426.03,275.28 427.00,275.90 427.97,276.51 428.93,277.11 429.90,277.71 430.87,278.29 431.84,278.86 432.80,279.43 433.77,279.99 434.74,280.53 435.70,281.07 436.67,281.60 437.64,282.12 438.60,282.62 439.57,283.12 440.54,283.61 441.51,284.09 442.47,284.56 443.44,285.02 444.41,285.46 445.37,285.90 446.34,286.33 447.31,286.75 448.28,287.16 449.24,287.56 450.21,287.95 451.18,288.33 452.14,288.70 453.11,289.05 454.08,289.40 455.04,289.74 456.01,290.07 456.98,290.39 457.95,290.70 458.91,291.01 459.88,291.30 460.85,291.58 461.81,291.85 462.78,292.12 463.75,292.37 464.71,292.62 465.68,292.85 466.65,293.08 467.62,293.30 468.58,293.51 469.55,293.71 470.52,293.91 471.48,294.09 472.45,294.27 473.42,294.44 474.39,294.60 475.35,294.75 476.32,294.90 477.29,295.04 478.25,295.17 479.22,295.29 480.19,295.41 481.15,295.52 482.12,295.62 483.09,295.71 484.06,295.80 485.02,295.89 485.99,295.97 486.96,296.04 487.92,296.10 488.89,296.16 489.86,296.22 490.82,296.27 491.79,296.31 492.76,296.35 493.73,296.38 494.69,296.41 495.66,296.44 496.63,296.46 497.59,296.47 498.56,296.49 499.53,296.49 500.49,296.50 501.46,296.50 502.43,296.50 503.40,296.49 504.36,296.49 505.33,296.47 506.30,296.46 507.26,296.44 508.23,296.43 509.20,296.41 510.17,296.38 511.13,296.36 512.10,296.33 513.07,296.31 514.03,296.28 515.00,296.25 515.97,296.22 516.93,296.18 517.90,296.15 518.87,296.12 519.84,296.08 520.80,296.05 521.77,296.01 522.74,295.98 523.70,295.94 524.67,295.91 525.64,295.87 526.60,295.84 527.57,295.80 528.54,295.77 529.51,295.74 530.47,295.71 531.44,295.67 532.41,295.64 533.37,295.62 534.34,295.59 535.31,295.56 536.28,295.53 537.24,295.51 538.21,295.49 539.18,295.47 540.14,295.44 541.11,295.43 542.08,295.41 543.04,295.39 544.01,295.38 544.98,295.37 545.95,295.36 546.91,295.35 547.88,295.34 548.85,295.34 549.81,295.34 550.78,295.34 551.75,295.34 552.71,295.34 553.68,295.34 554.65,295.35" stroke="#ffaa00" stroke-width="3.6" fill="none" stroke-linejoin="round"/>
<polyline points="72.10,296.50 73.07,296.50 74.03,296.50 75.00,296.50 75.97,296.50 76.94,296.50 77.90,296.50 78.87,296.50 79.84,296.50 80.80,296.50 81.77,296.49 82.74,296.49 83.70,296.49 84.67,296.49 85.64,296.48 86.61,296.48 87.57,296.48 88.54,296.47 89.51,296.47 90.47,296.46 91.44,296.45 92.41,296.44 93.37,296.43 94.34,296.42 95.31,296.41 96.28,296.40 97.24,296.38 98.21,296.37 99.18,296.35 100.14,296.33 101.11,296.31 102.08,296.29 103.05,296.26 104.01,296.24 104.98,296.21 105.95,296.18 106.91,296.14 107.88,296.11 108.85,296.07 109.81,296.02 110.78,295.98 111.75,295.93 112.72,295.88 113.68,295.83 114.65,295.77 115.62,295.71 116.58,295.65 117.55,295.58 118.52,295.51 119.48,295.43 120.45,295.35 121.42,295.27 122.39,295.18 123.35,295.09 124.32,294.99 125.29,294.89 126.25,294.78 127.22,294.67 128.19,294.55 129.15,294.43 130.12,294.30 131.09,294.17 132.06,294.03 133.02,293.89 133.99,293.74 134.96,293.58 135.92,293.42 136.89,293.25 137.86,293.08 138.83,292.90 139.79,292.71 140.76,292.52 141.73,292.32 142.69,292.11 143.66,291.90 144.63,291.68 145.59,291.45 146.56,291.22 147.53,290.98 148.50,290.73 149.46,290.47 150.43,290.21 151.40,289.94 152.36,289.66 153.33,289.37 154.30,289.08 155.26,288.78 156.23,288.47 157.20,288.15 158.17,287.82 159.13,287.49 160.10,287.15 161.07,286.80 162.03,286.44 163.00,286.07 163.97,285.70 164.94,285.31 165.90,284.92 166.87,284.52 167.84,284.12 168.80,283.70 169.77,283.28 170.74,282.84 171.70,282.40 172.67,281.95 173.64,281.50 174.61,281.03 175.57,280.56 176.54,280.08 177.51,279.59 178.47,279.09 179.44,278.58 180.41,278.07 181.37,277.54 182.34,277.01 183.31,276.47 184.28,275.93 185.24,275.37 186.21,274.81 187.18,274.24 188.14,273.67 189.11,273.08 190.08,272.49 191.04,271.89 192.01,271.28 192.98,270.67 193.95,270.05 194.91,269.42 195.88,268.79 196.85,268.15 197.81,267.50 198.78,266.85 199.75,266.19 200.72,265.53 201.68,264.85 202.65,264.18 203.62,263.49 204.58,262.81 205.55,262.11 206.52,261.41 207.48,260.71 208.45,260.00 209.42,259.29 210.39,258.57 211.35,257.85 212.32,257.13 213.29,256.40 214.25,255.66 215.22,254.93 216.19,254.19 217.15,253.45 218.12,252.70 219.09,251.95 220.06,251.20 221.02,250.45 221.99,249.69 222.96,248.94 223.92,248.18 224.89,247.42 225.86,246.66 226.83,245.90 227.79,245.14 228.76,244.38 229.73,243.62 230.69,242.85 231.66,242.09 232.63,241.33 233.59,240.57 234.56,239.81 235.53,239.06 236.50,238.30 237.46,237.55 238.43,236.79 239.40,236.05 240.36,235.30 241.33,234.56 242.30,233.82 243.26,233.08 244.23,232.34 245.20,231.62 246.17,230.89 247.13,230.17 248.10,229.45 249.07,228.74 250.03,228.04 251.00,227.33 251.97,226.64 252.93,225.95 253.90,225.27 254.87,224.59 255.84,223.92 256.80,223.26 257.77,222.60 258.74,221.95 259.70,221.31 260.67,220.68 261.64,220.06 262.61,219.44 263.57,218.83 264.54,218.23 265.51,217.64 266.47,217.06 267.44,216.49 268.41,215.93 269.37,215.38 270.34,214.84 271.31,214.31 272.28,213.78 273.24,213.27 274.21,212.78 275.18,212.29 276.14,211.81 277.11,211.35 278.08,210.89 279.04,210.45 280.01,210.02 280.98,209.60 281.95,209.20 282.91,208.80 283.88,208.42 284.85,208.06 285.81,207.70 286.78,207.36 287.75,207.03 288.72,206.72 289.68,206.42 290.65,206.13 291.62,205.85 292.58,205.59 293.55,205.35 294.52,205.11 295.48,204.89 296.45,204.69 297.42,204.50 298.39,204.32 299.35,204.16 300.32,204.01 301.29,203.88 302.25,203.76 303.22,203.66 304.19,203.57 305.15,203.50 306.12,203.44 307.09,203.39 308.06,203.36 309.02,203.35 309.99,203.35 310.96,203.36 311.92,203.39 312.89,203.43 313.86,203.49 314.82,203.57 315.79,203.65 316.76,203.76 317.73,203.87 318.69,204.01 319.66,204.15 320.63,204.31 321.59,204.49 322.56,204.68 323.53,204.88 324.50,205.10 325.46,205.33 326.43,205.58 327.40,205.84 328.36,206.11 329.33,206.40 330.30,206.70 331.26,207.01 332.23,207.34 333.20,207.68 334.17,208.04 335.13,208.40 336.10,208.78 337.07,209.17 338.03,209.58 339.00,210.00 339.97,210.42 340.93,210.87 341.90,211.32 342.87,211.78 343.84,212.26 344.80,212.75 345.77,213.25 346.74,213.76 347.70,214.28 348.67,214.81 349.64,215.35 350.61,215.90 351.57,216.46 352.54,217.03 353.51,217.61 354.47,218.20 355.44,218.80 356.41,219.40 357.37,220.02 358.34,220.64 359.31,221.28 360.28,221.92 361.24,222.57 362.21,223.22 363.18,223.88 364.14,224.55 365.11,225.23 366.08,225.91 367.04,226.60 368.01,227.29 368.98,227.99 369.95,228.70 370.91,229.41 371.88,230.13 372.85,230.85 373.81,231.57 374.78,232.30 375.75,233.04 376.71,233.77 377.68,234.51 378.65,235.26 379.62,236.00 380.58,236.75 381.55,237.50 382.52,238.26 383.48,239.01 384.45,239.77 385.42,240.53 386.39,241.29 387.35,242.05 388.32,242.81 389.29,243.57 390.25,244.33 391.22,245.09 392.19,245.86 393.15,246.62 394.12,247.38 395.09,248.14 396.06,248.89 397.02,249.65 397.99,250.40 398.96,251.16 399.92,251.91 400.89,252.66 401.86,253.40 402.82,254.14 403.79,254.88 404.76,255.62 405.73,256.35 406.69,257.08 407.66,257.81 408.63,258.53 409.59,259.25 410.56,259.96 411.53,260.67 412.50,261.37 413.46,262.07 414.43,262.77 415.40,263.45 416.36,264.14 417.33,264.81 418.30,265.49 419.26,266.15 420.23,266.81 421.20,267.47 422.17,268.11 423.13,268.75 424.10,269.39 425.07,270.01 426.03,270.64 427.00,271.25 427.97,271.86 428.93,272.46 429.90,273.05 430.87,273.63 431.84,274.21 432.80,274.78 433.77,275.34 434.74,275.90 435.70,276.44 436.67,276.98 437.64,277.51 438.60,278.04 439.57,278.55 440.54,279.06 441.51,279.56 442.47,280.05 443.44,280.53 444.41,281.00 445.37,281.47 446.34,281.93 447.31,282.38 448.28,282.82 449.24,283.25 450.21,283.68 451.18,284.09 452.14,284.50 453.11,284.90 454.08,285.29 455.04,285.68 456.01,286.05 456.98,286.42 457.95,286.78 458.91,287.13 459.88,287.47 460.85,287.80 461.81,288.13 462.78,288.45 463.75,288.76 464.71,289.06 465.68,289.35 466.65,289.64 467.62,289.92 468.58,290.19 469.55,290.46 470.52,290.71 471.48,290.96 472.45,291.20 473.42,291.44 474.39,291.67 475.35,291.89 476.32,292.10 477.29,292.31 478.25,292.51 479.22,292.70 480.19,292.89 481.15,293.07 482.12,293.24 483.09,293.41 484.06,293.57 485.02,293.73 485.99,293.88 486.96,294.02 487.92,294.16 488.89,294.29 489.86,294.42 490.82,294.54 491.79,294.66 492.76,294.77 493.73,294.88 494.69,294.98 495.66,295.08 496.63,295.17 497.59,295.26 498.56,295.35 499.53,295.43 500.49,295.50 501.46,295.57 502.43,295.64 503.40,295.71 504.36,295.77 505.33,295.82 506.30,295.88 507.26,295.93 508.23,295.98 509.20,296.02 510.17,296.06 511.13,296.10 512.10,296.14 513.07,296.17 514.03,296.21 515.00,296.23 515.97,296.26 516.93,296.29 517.90,296.31 518.87,296.33 519.84,296.35 520.80,296.37 521.77,296.38 522.74,296.40 523.70,296.41 524.67,296.42 525.64,296.43 526.60,296.44 527.57,296.45 528.54,296.46 529.51,296.47 530.47,296.47 531.44,296.48 532.41,296.48 533.37,296.48 534.34,296.49 535.31,296.49 536.28,296.49 537.24,296.49 538.21,296.50 539.18,296.50 540.14,296.50 541.11,296.50 542.08,296.50 543.04,296.50 544.01,296.50 544.98,296.50 545.95,296.50 546.91,296.50 547.88,296.50 548.85,296.50 549.81,296.50 550.78,296.50 551.75,296.50 552.71,296.50 553.68,296.50 554.65,296.50" stroke="#ff5500" stroke-width="3.6" fill="none" stroke-linejoin="round"/>
<text x="66.2" y="302.40" text-anchor="end" font-family='"Liberation Serif", serif' font-size="17.2" fill="#262626">0</text>
<text x="66.2" y="270.14" text-anchor="end" font-family='"Liberation Serif", serif' font-size="17.2" fill="#262626">200</text>
<text x="66.2" y="237.89" text-anchor="end" font-family='"Liberation Serif", serif' font-size="17.2" fill="#262626">400</text>
<text x="66.2" y="205.63" text-anchor="end" font-family='"Liberation Serif", serif' font-size="17.2" fill="#262626">600</text>
<text x="66.2" y="173.38" text-anchor="end" font-family='"Liberation Serif", serif' font-size="17.2" fill="#262626">800</text>
<text x="66.2" y="141.12" text-anchor="end" font-family='"Liberation Serif", serif' font-size="17.2" fill="#262626">1000</text>
<text x="66.2" y="108.87" text-anchor="end" font-family='"Liberation Serif", serif' font-size="17.2" fill="#262626">1200</text>
<text x="66.2" y="76.61" text-anchor="end" font-family='"Liberation Serif", serif' font-size="17.2" fill="#262626">1400</text>
<text x="66.2" y="44.36" text-anchor="end" font-family='"Liberation Serif", serif' font-size="17.2" fill="#262626">1600</text>
<text x="66.2" y="12.10" text-anchor="end" font-family='"Liberation Serif", serif' font-size="17.2" fill="#262626">1800</text>
<text x="72.10" y="318.3" text-anchor="middle" font-family='"Liberation Serif", serif' font-size="17.2" fill="#262626">0</text>
<text x="148.90" y="318.3" text-anchor="middle" font-family='"Liberation Serif", serif' font-size="17.2" fill="#262626">1</text>
<text x="225.70" y="318.3" text-anchor="middle" font-family='"Liberation Serif", serif' font-size="17.2" fill="#262626">2</text>
<text x="302.50" y="318.3" text-anchor="middle" font-family='"Liberation Serif", serif' font-size="17.2" fill="#262626">3</text>
<text x="379.30" y="318.3" text-anchor="middle" font-family='"Liberation Serif", serif' font-size="17.2" fill="#262626">4</text>
<text x="456.10" y="318.3" text-anchor="middle" font-family='"Liberation Serif", serif' font-size="17.2" fill="#262626">5</text>
<text x="532.90" y="318.3" text-anchor="middle" font-family='"Liberation Serif", serif' font-size="17.2" fill="#262626">6</text>
<text x="187.4" y="340.8" font-family='"Liberation Serif", serif' font-size="18.65" fill="#262626">Initial phase difference</text>
<path d="M373.4 327.3 L380.3 340.7 L366.3 340.7 Z M372.7 330.3 L368.05 339.1 L377.2 339.1 Z" fill="#262626" fill-rule="evenodd"/>
<ellipse cx="387.2" cy="336.8" rx="4.6" ry="3.5" transform="rotate(-38 387.2 336.8)" fill="none" stroke="#262626" stroke-width="1.15"/>
<path d="M389.5 328.2 L385.1 344.8" stroke="#262626" stroke-width="1.1" fill="none"/>
<text x="396.4" y="340.8" font-family='"Liberation Serif", serif' font-size="18.9" fill="#262626">(rad)</text>
<g transform="translate(14,244.2) rotate(-90)" font-family='"Liberation Serif", serif' fill="#262626">
<text x="0" y="0" font-size="18.95">Peak-to-Peak</text>
<text x="103.5" y="0" font-size="18.95">Value :</text>
<text x="164" y="0" font-size="18.8" font-style="italic">F</text>
<text x="176.2" y="9.8" font-size="16">ecc</text>
<text x="202.3" y="0" font-size="18.6">(N)</text>
</g>
<rect x="562.5" y="7" width="121" height="286.5" stroke="#666666" stroke-width="1" fill="#fff"/>
<path d="M566.5 24.80H609" stroke="#0000ff" stroke-width="3.6"/>
<text x="612" y="27.40" font-family='"Liberation Serif", serif' font-size="16" fill="#262626"><tspan font-style="italic">e</tspan><tspan font-size="12.4" dy="6.8">1</tspan><tspan dy="-6.8">/</tspan><tspan font-style="italic">e</tspan><tspan font-size="12.4" dy="6.8">2</tspan><tspan dy="-6.8"> = 0.1</tspan></text>
<path d="M566.5 56.19H609" stroke="#0055ff" stroke-width="3.6"/>
<text x="612" y="58.79" font-family='"Liberation Serif", serif' font-size="16" fill="#262626"><tspan font-style="italic">e</tspan><tspan font-size="12.4" dy="6.8">1</tspan><tspan dy="-6.8">/</tspan><tspan font-style="italic">e</tspan><tspan font-size="12.4" dy="6.8">2</tspan><tspan dy="-6.8"> = 0.2</tspan></text>
<path d="M566.5 87.58H609" stroke="#00aaff" stroke-width="3.6"/>
<text x="612" y="90.18" font-family='"Liberation Serif", serif' font-size="16" fill="#262626"><tspan font-style="italic">e</tspan><tspan font-size="12.4" dy="6.8">1</tspan><tspan dy="-6.8">/</tspan><tspan font-style="italic">e</tspan><tspan font-size="12.4" dy="6.8">2</tspan><tspan dy="-6.8"> = 0.3</tspan></text>
<path d="M566.5 118.97H609" stroke="#00ffff" stroke-width="3.6"/>
<text x="612" y="121.57" font-family='"Liberation Serif", serif' font-size="16" fill="#262626"><tspan font-style="italic">e</tspan><tspan font-size="12.4" dy="6.8">1</tspan><tspan dy="-6.8">/</tspan><tspan font-style="italic">e</tspan><tspan font-size="12.4" dy="6.8">2</tspan><tspan dy="-6.8"> = 0.4</tspan></text>
<path d="M566.5 150.36H609" stroke="#55ffaa" stroke-width="3.6"/>
<text x="612" y="152.96" font-family='"Liberation Serif", serif' font-size="16" fill="#262626"><tspan font-style="italic">e</tspan><tspan font-size="12.4" dy="6.8">1</tspan><tspan dy="-6.8">/</tspan><tspan font-style="italic">e</tspan><tspan font-size="12.4" dy="6.8">2</tspan><tspan dy="-6.8"> = 0.5</tspan></text>
<path d="M566.5 181.75H609" stroke="#aaff55" stroke-width="3.6"/>
<text x="612" y="184.35" font-family='"Liberation Serif", serif' font-size="16" fill="#262626"><tspan font-style="italic">e</tspan><tspan font-size="12.4" dy="6.8">1</tspan><tspan dy="-6.8">/</tspan><tspan font-style="italic">e</tspan><tspan font-size="12.4" dy="6.8">2</tspan><tspan dy="-6.8"> = 0.6</tspan></text>
<path d="M566.5 213.14H609" stroke="#ffff00" stroke-width="3.6"/>
<text x="612" y="215.74" font-family='"Liberation Serif", serif' font-size="16" fill="#262626"><tspan font-style="italic">e</tspan><tspan font-size="12.4" dy="6.8">1</tspan><tspan dy="-6.8">/</tspan><tspan font-style="italic">e</tspan><tspan font-size="12.4" dy="6.8">2</tspan><tspan dy="-6.8"> = 0.7</tspan></text>
<path d="M566.5 244.53H609" stroke="#ffaa00" stroke-width="3.6"/>
<text x="612" y="247.13" font-family='"Liberation Serif", serif' font-size="16" fill="#262626"><tspan font-style="italic">e</tspan><tspan font-size="12.4" dy="6.8">1</tspan><tspan dy="-6.8">/</tspan><tspan font-style="italic">e</tspan><tspan font-size="12.4" dy="6.8">2</tspan><tspan dy="-6.8"> = 0.8</tspan></text>
<path d="M566.5 275.92H609" stroke="#ff5500" stroke-width="3.6"/>
<text x="612" y="278.52" font-family='"Liberation Serif", serif' font-size="16" fill="#262626"><tspan font-style="italic">e</tspan><tspan font-size="12.4" dy="6.8">1</tspan><tspan dy="-6.8">/</tspan><tspan font-style="italic">e</tspan><tspan font-size="12.4" dy="6.8">2</tspan><tspan dy="-6.8"> = 1.0</tspan></text>
</svg></body></html>
